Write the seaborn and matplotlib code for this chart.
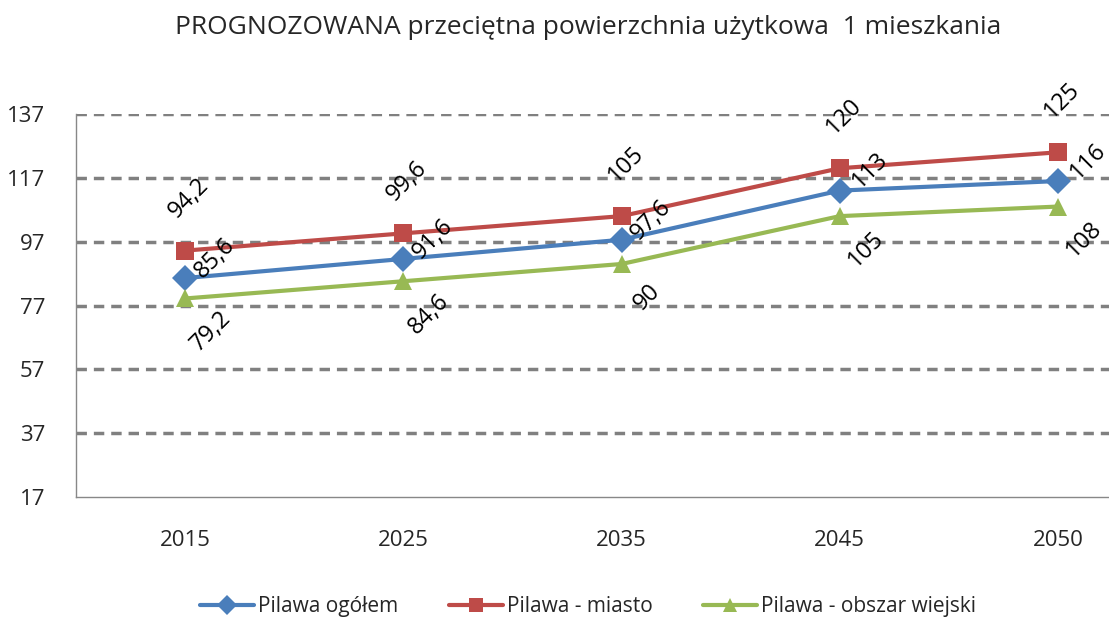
import matplotlib
matplotlib.use("Agg")
import matplotlib.pyplot as plt
import seaborn as sns
import pandas as pd

# dane
lata = ["2015", "2025", "2035", "2045", "2050"]
ogolem = [85.6, 91.6, 97.6, 113, 116]
miasto = [94.2, 99.6, 105, 120, 125]
wies = [79.2, 84.6, 90, 105, 108]
serie = ["Pilawa ogółem", "Pilawa - miasto", "Pilawa - obszar wiejski"]
y_ticks = [17, 37, 57, 77, 97, 117, 137]

kolory = {serie[0]: "#4A7EBB", serie[1]: "#BE4B48", serie[2]: "#98B954"}
markery = {serie[0]: "D", serie[1]: "s", serie[2]: "^"}
# przesuniecia etykiet (w pikselach): miasto nad, ogolem z prawej, wies pod
przesuniecia = {serie[0]: (30, 20), serie[1]: (4, 52), serie[2]: (26, -33)}

df = pd.DataFrame({
    "rok": lata * 3,
    "wartosc": ogolem + miasto + wies,
    "seria": [serie[0]] * 5 + [serie[1]] * 5 + [serie[2]] * 5,
})

sns.set_style("white")
plt.rcParams["font.family"] = ["Open Sans", "DejaVu Sans"]

fig = plt.figure(figsize=(11.09, 6.17), dpi=100)
ax = fig.add_axes([76 / 1109, 120 / 617, 1091 / 1109, 383 / 617])

sns.lineplot(data=df, x="rok", y="wartosc", hue="seria", style="seria",
             palette=kolory, markers=markery, dashes=False, markersize=13,
             linewidth=3, markeredgewidth=0, sort=False, ax=ax)

# etykiety danych obrocone o 45 stopni
for s, wartosci in zip(serie, [ogolem, miasto, wies]):
    for i, v in enumerate(wartosci):
        tekst = f"{v:g}".replace(".", ",")
        ax.annotate(tekst, (i, v), xytext=przesuniecia[s], textcoords="offset pixels",
                    rotation=45, ha="center", va="center", fontsize=17, color="black")

ax.set_xlim(-0.5, 4.5)
ax.set_ylim(17, 137)
ax.set_yticks(y_ticks)
for y in y_ticks[1:]:
    ax.axhline(y, color="#808080", linestyle=(0, (3, 2)), linewidth=2.5, zorder=0)

ax.set_xlabel("")
ax.set_ylabel("")
ax.tick_params(axis="x", labelsize=16, pad=24, length=0)
ax.tick_params(axis="y", labelsize=16, pad=22, length=0)
for k in ["top", "right"]:
    ax.spines[k].set_visible(False)
for k in ["left", "bottom"]:
    ax.spines[k].set_color("#888888")
    ax.spines[k].set_linewidth(1)

ax.legend(loc="upper center", bbox_to_anchor=(512 / 1091, -0.21), ncol=3,
          frameon=False, fontsize=15, handlelength=2.6, columnspacing=2.4,
          markerscale=0.8, handletextpad=0.2)

fig.suptitle("PROGNOZOWANA przeciętna powierzchnia użytkowa  1 mieszkania",
             x=0.53, y=0.975, fontsize=19)

fig.savefig("out.png", dpi=100)
